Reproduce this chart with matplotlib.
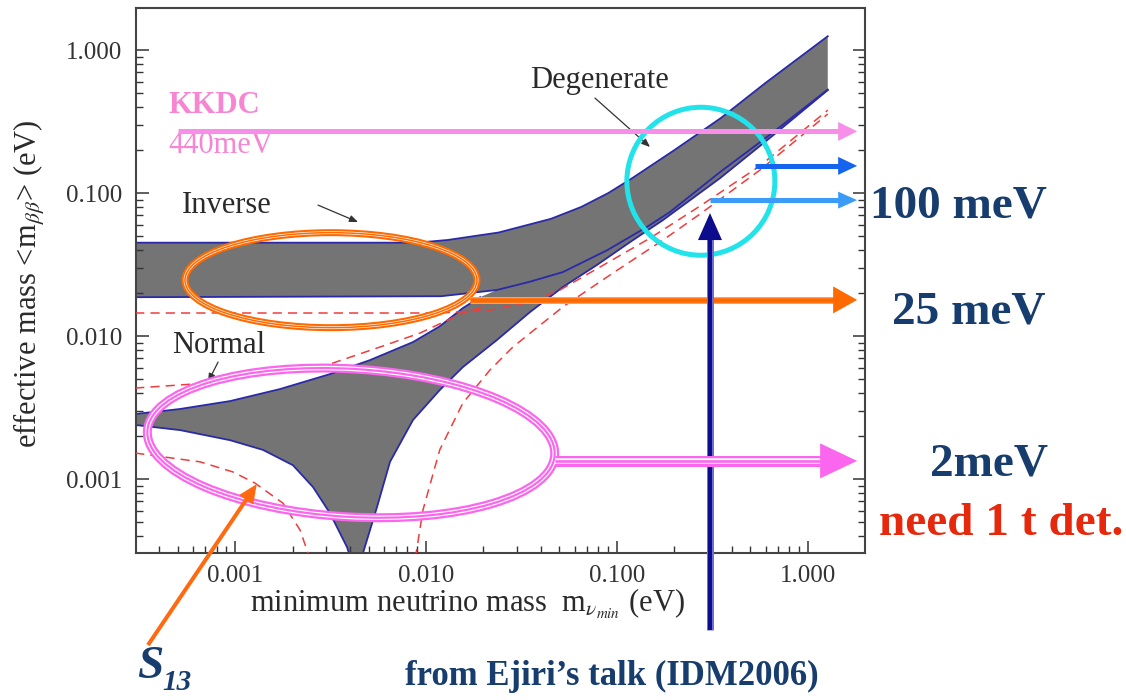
import numpy as np
import matplotlib
matplotlib.use("Agg")
import matplotlib.pyplot as plt
import matplotlib.patheffects as pe
from matplotlib.patches import Ellipse, Polygon
from matplotlib.lines import Line2D
from matplotlib.transforms import IdentityTransform
from matplotlib.ticker import LogLocator, NullFormatter

plt.rcParams["font.family"] = ["Liberation Serif", "DejaVu Serif"]
plt.rcParams["mathtext.fontset"] = "stix"

# ---------------------------------------------------------------- data
tick_values = [0.001, 0.01, 0.1, 1.0]
tick_labels = ["0.001", "0.010", "0.100", "1.000"]

# inverted hierarchy band (upper / lower edge)
ih_upper_x = [3.0e-4, 0.009, 0.013, 0.024, 0.045, 0.065, 0.09, 0.12, 0.2, 0.35, 0.6, 1.27]
ih_upper_y = [0.045, 0.045, 0.047, 0.053, 0.066, 0.080, 0.100, 0.127, 0.200, 0.335, 0.590, 1.25]
ih_lower_x = [3.0e-4, 0.012, 0.0235, 0.035, 0.052, 0.089, 0.143, 0.189, 0.346, 0.63, 1.27]
ih_lower_y = [0.0187, 0.0190, 0.0210, 0.0240, 0.0280, 0.0399, 0.0578, 0.0736, 0.140, 0.255, 0.53]

# normal hierarchy band: upper edge (until it enters the inverted band) and lower edge
nh_upper_x = [3.0e-4, 5.15e-4, 9.42e-4, 1.72e-3, 3.14e-3, 5.09e-3, 8.55e-3, 0.0118, 0.0156, 0.0192]
nh_upper_y = [2.85e-3, 3.09e-3, 3.51e-3, 4.26e-3, 5.42e-3, 6.79e-3, 9.08e-3, 0.0117, 0.0157, 0.0187]
nh_lower_x = [3.0e-4, 5.15e-4, 9.42e-4, 1.40e-3, 2.01e-3, 2.56e-3, 3.14e-3, 3.86e-3, 4.30e-3,
              4.68e-3, 5.54e-3, 6.48e-3, 8.55e-3, 0.0118, 0.0156, 0.0235, 0.035, 0.052,
              0.0785, 0.117, 0.174, 0.346, 0.632, 1.27]
nh_lower_y = [2.39e-3, 2.20e-3, 1.87e-3, 1.60e-3, 1.25e-3, 8.79e-4, 5.78e-4, 3.34e-4, 2.1e-4,
              3.04e-4, 6.37e-4, 1.32e-3, 2.59e-3, 4.19e-3, 6.07e-3, 9.38e-3, 0.0147, 0.0220,
              0.0314, 0.0454, 0.0647, 0.127, 0.243, 0.525]

# dashed bounds
dash_a_x = [3.0e-4, 0.0118, 0.0216, 0.035, 0.0503, 0.0815, 0.149, 0.272, 0.561, 1.27]
dash_a_y = [0.0145, 0.0145, 0.0152, 0.0173, 0.0210, 0.0304, 0.0484, 0.0811, 0.155, 0.380]
dash_b_x = [8.8e-3, 9.64e-3, 0.0118, 0.0156, 0.0216, 0.0285, 0.0521, 0.0953, 0.174, 0.272, 0.561, 1.27]
dash_b_y = [2.8e-4, 6.07e-4, 1.60e-3, 3.40e-3, 5.78e-3, 8.38e-3, 0.0160, 0.0276, 0.0469, 0.0713, 0.145, 0.357]
dash_c_x = [3.0e-4, 7.13e-4, 1.44e-3, 3.14e-3, 5.74e-3, 9.31e-3, 0.0156, 0.0216]
dash_c_y = [4.33e-3, 4.69e-3, 5.42e-3, 6.37e-3, 8.38e-3, 0.0105, 0.0145, 0.0165]
dash_d_x = [3.0e-4, 6.56e-4, 9.77e-4, 1.27e-3, 1.78e-3, 2.19e-3, 2.41e-3, 2.5e-3]
dash_d_y = [1.52e-3, 1.32e-3, 1.12e-3, 9.38e-4, 6.79e-4, 4.40e-4, 3.04e-4, 2.1e-4]

# sensitivity levels marked by the horizontal arrows
kkdc_level = 0.27
level_100_a = 0.155
level_100_b = 0.0893
level_25 = 0.0179
level_2 = 1.34e-3
arrow_end = 1.81
probe_mass = 0.307

# ---------------------------------------------------------------- figure
W, H = 1126, 700
fig = plt.figure(figsize=(W / 100, H / 100), dpi=100)
fig.patch.set_facecolor("white")
ax = fig.add_axes([136 / W, 1 - 553 / H, (865 - 136) / W, (553 - 8) / H])
ax.set_xscale("log")
ax.set_yscale("log")
ax.set_xlim(3.03e-4, 1.99)
ax.set_ylim(3.04e-4, 1.97)

band_grey = "#747474"
edge_blue = "#2a2aa8"

# inverted band
ax.fill(np.r_[ih_lower_x, ih_upper_x[::-1]], np.r_[ih_lower_y, ih_upper_y[::-1]],
        color=band_grey, lw=0, zorder=1)
# normal band: bounded above by its own edge, then by the inverted band's lower edge
nh_top_x = np.r_[nh_upper_x, [v for v in ih_lower_x if v > nh_upper_x[-1]]]
nh_top_y = np.r_[nh_upper_y, [w for v, w in zip(ih_lower_x, ih_lower_y) if v > nh_upper_x[-1]]]
ax.fill(np.r_[nh_lower_x, nh_top_x[::-1]], np.r_[nh_lower_y, nh_top_y[::-1]],
        color=band_grey, lw=0, zorder=1)

for xs, ys in [(ih_upper_x, ih_upper_y), (ih_lower_x, ih_lower_y),
               (nh_upper_x, nh_upper_y), (nh_lower_x, nh_lower_y)]:
    ax.plot(xs, ys, color=edge_blue, lw=1.3, zorder=2)

for xs, ys in [(dash_a_x, dash_a_y), (dash_b_x, dash_b_y),
               (dash_c_x, dash_c_y), (dash_d_x, dash_d_y)]:
    ax.plot(xs, ys, color="#f03c3c", lw=1.1, dashes=(6, 4), zorder=3)

# axes styling
ax.set_xticks(tick_values, labels=tick_labels)
ax.set_yticks(tick_values, labels=tick_labels)
for axis in (ax.xaxis, ax.yaxis):
    axis.set_minor_locator(LogLocator(base=10, subs=np.arange(2, 10)))
    axis.set_minor_formatter(NullFormatter())
ax.tick_params(which="both", direction="in", colors="#333333", labelsize=18,
               left=True, right=True, bottom=True, top=False)
ax.tick_params(which="major", length=9, width=1.1)
ax.tick_params(which="minor", length=5, width=1.0)
ax.tick_params(axis="x", pad=9)
ax.tick_params(axis="y", pad=10)
for s in ax.spines.values():
    s.set_color("#444444")
    s.set_linewidth(1.5)

lab = dict(fontsize=22, color="#2a2a2a")
ax.text(0.0350, 0.542, "Degenerate", **lab)
ax.text(5.28e-4, 0.0725, "Inverse", **lab)
ax.text(4.68e-4, 7.6e-3, "Normal", **lab)
for (x0, y0), (x1, y1) in [((0.0767, 0.462), (0.149, 0.210)),
                           ((2.72e-3, 0.0824), (4.41e-3, 0.0627)),
                           ((8.15e-4, 6.58e-3), (7.22e-4, 4.77e-3))]:
    ax.annotate("", xy=(x1, y1), xytext=(x0, y0),
                arrowprops=dict(arrowstyle="-|>,head_length=0.5,head_width=0.2",
                                color="#333333", lw=0.9, shrinkA=0, shrinkB=0))

pink_txt = "#f786d2"
ax.text(4.46e-4, 0.362, "KKDC", fontsize=22, fontweight="bold", color=pink_txt)
ax.text(4.46e-4, 0.190, "440meV", fontsize=22, color=pink_txt)

# axis titles
fig.text(250 / W, 1 - 612 / H, r"minimum neutrino mass  m$_{\nu_{min}}$ (eV)",
         fontsize=22, color="#2a2a2a", ha="left", va="baseline")
fig.text(30 / W, 1 - 284 / H, r"effective mass <m$_{\beta\beta}$> (eV)",
         fontsize=22, color="#2a2a2a", rotation=90, ha="center", va="center")

# ---------------------------------------------------------------- overlay
ID = IdentityTransform()


def to_px(x, y):
    return ax.transData.transform((x, y))


def arrow(p0, p1, color, shaft, head_len, head_w, effects=None, z=6):
    p0 = np.asarray(p0, float)
    p1 = np.asarray(p1, float)
    d = p1 - p0
    u = d / np.hypot(*d)
    n = np.array([-u[1], u[0]])
    base = p1 - u * head_len
    tail_end = base + u * 1.0
    ln = Line2D([p0[0], tail_end[0]], [p0[1], tail_end[1]], transform=ID, color=color,
                lw=shaft * 0.72, solid_capstyle="butt", zorder=z)
    if effects:
        ln.set_path_effects(effects)
    fig.add_artist(ln)
    fig.add_artist(Polygon([base + n * head_w / 2, p1, base - n * head_w / 2], closed=True,
                           transform=ID, facecolor=color, edgecolor="none", zorder=z))


def triple(color, width, gap=0.55, core=0.26):
    w = width * 0.72
    return [pe.Stroke(linewidth=w, foreground=color),
            pe.Stroke(linewidth=w * gap, foreground="white"),
            pe.Stroke(linewidth=w * core, foreground=color)]


def ring(center, w, h, angle, color, width, effects=None, z=5):
    e = Ellipse(to_px(*center), w, h, angle=angle, transform=ID, fill=False,
                edgecolor=color, lw=width * 0.72, zorder=z)
    if effects:
        e.set_path_effects(effects)
    fig.add_artist(e)


orange = "#ff6a00"
magenta = "#fb66ee"

ring((3.18e-3, 0.0246), 292, 95, 0, orange, 7, triple(orange, 7, 0.4, 0.22))
ring((4.05e-3, 1.79e-3), 408, 148, -3.4, magenta, 9, triple(magenta, 9, 0.5, 0.24))
ring((0.275, 0.121), 148, 148, 0, "#22e2ea", 5)

arrow(to_px(5.0e-4, kkdc_level), to_px(arrow_end, kkdc_level), "#f78ee8", 5, 19, 19)
arrow(to_px(0.528, level_100_a), to_px(arrow_end, level_100_a), "#1464f0", 5, 19, 18)
arrow(to_px(probe_mass, level_100_b), to_px(arrow_end, level_100_b), "#3b9cf7", 5, 19, 17)
arrow(to_px(0.0170, level_25), to_px(arrow_end, level_25), orange, 6, 24, 27,
      [pe.Stroke(linewidth=7 * 0.72, foreground="#ffa060"),
       pe.Stroke(linewidth=4.5 * 0.72, foreground=orange)])
arrow(to_px(0.0473, level_2), to_px(arrow_end, level_2), magenta, 11, 37, 35,
      triple(magenta, 11, 0.5, 0.24), z=7)
arrow(to_px(probe_mass, 8.8e-5), to_px(probe_mass, 0.0725), "#0c0c8c", 6, 27, 24,
      [pe.Stroke(linewidth=7 * 0.72, foreground="#6f6fd0"),
       pe.Stroke(linewidth=4 * 0.72, foreground="#0c0c8c")])
arrow(to_px(3.5e-4, 6.9e-5), to_px(1.30e-3, 9.23e-4), "#ff6a10", 4, 19, 17)

# ---------------------------------------------------------------- side notes
navy = "#163d6e"


def ftext(x, y, s, **kw):
    fig.text(x / W, 1 - y / H, s, ha="left", va="baseline", **kw)


ftext(870, 218, "100 meV", fontsize=34, fontweight="bold", color=navy)
ftext(892, 324, "25 meV", fontsize=34, fontweight="bold", color=navy)
ftext(930, 476, "2meV", fontsize=34, fontweight="bold", color=navy)
ftext(879, 535, "need 1 t det.", fontsize=34, fontweight="bold", color="#e6280c")
ftext(405, 685, "from Ejiri\u2019s talk (IDM2006)", fontsize=25, fontweight="bold", color=navy)
ftext(137, 678, "S", fontsize=34, fontweight="bold", fontstyle="italic", color=navy)
ftext(162, 690, "13", fontsize=21, fontweight="bold", fontstyle="italic", color=navy)

fig.savefig("out.png", dpi=100, facecolor="white")
